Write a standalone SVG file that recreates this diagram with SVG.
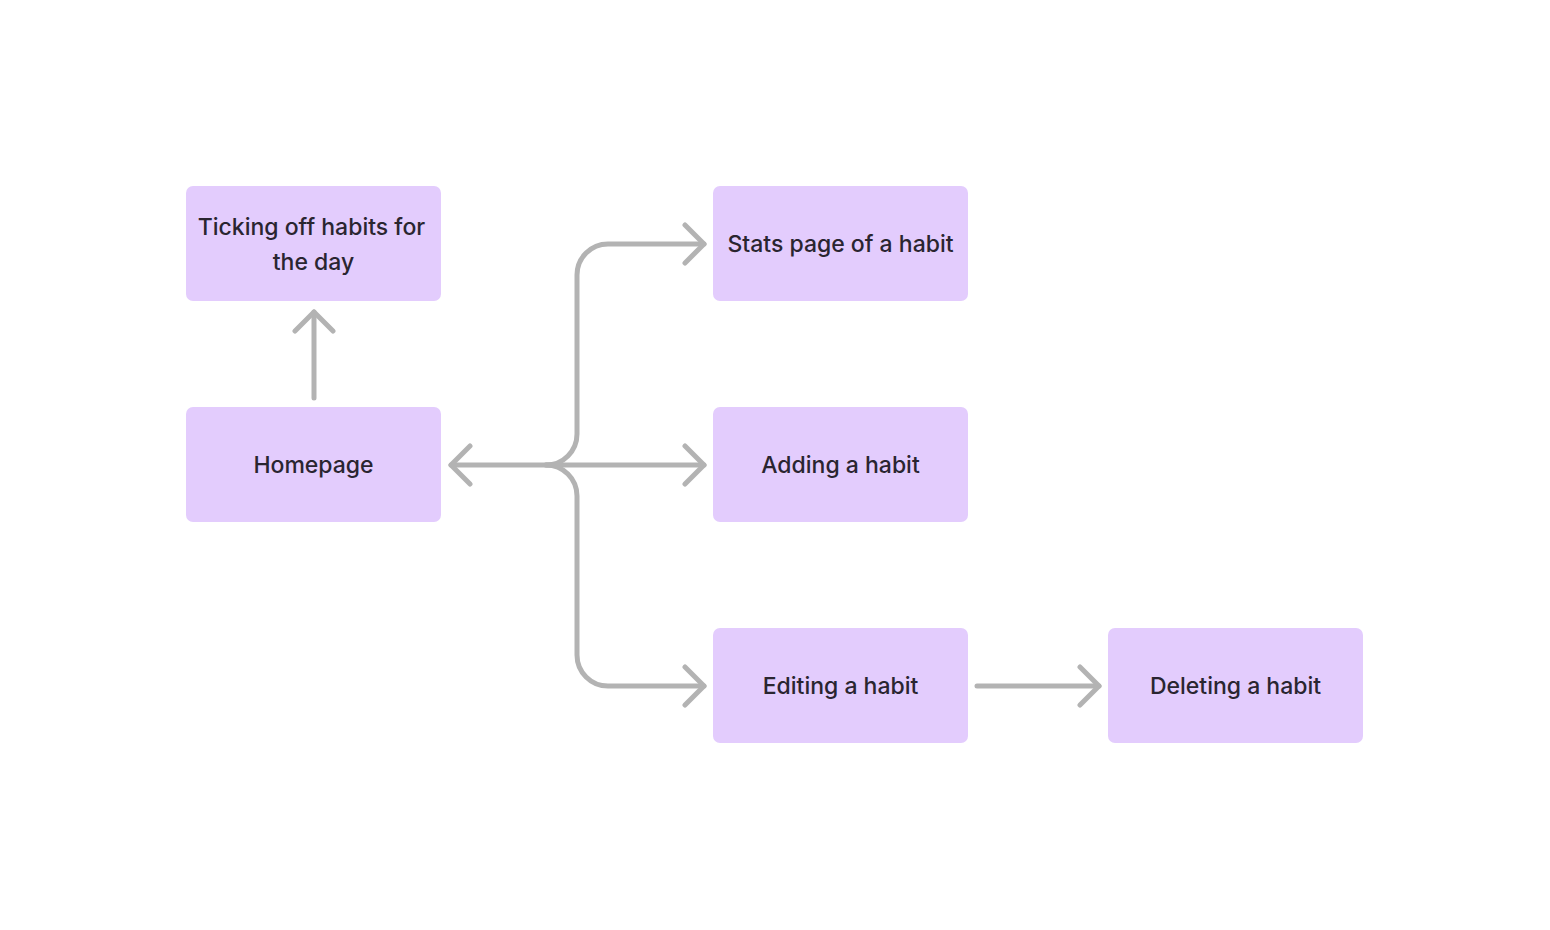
<svg xmlns="http://www.w3.org/2000/svg" width="1550" height="930" viewBox="0 0 1550 930">
  <style>
    .box { fill: #E3CCFD; }
    .label { font-family: Inter, "Noto Sans", "Liberation Sans", sans-serif; font-size: 23px; font-weight: 500; fill: #2A2530; text-anchor: middle; }
    .link { fill: none; stroke: #B3B3B3; stroke-width: 5; stroke-linecap: round; stroke-linejoin: round; }
  </style>
  <defs>
    <marker id="chevron" markerUnits="userSpaceOnUse" viewBox="-24 -22 28 44" refX="0" refY="0" markerWidth="28" markerHeight="44" orient="auto-start-reverse">
      <path d="M -19 -19 L 0 0 L -19 19" fill="none" stroke="#B3B3B3" stroke-width="5" stroke-linecap="round" stroke-linejoin="round"/>
    </marker>
  </defs>
  <rect width="1550" height="930" fill="#FFFFFF"/>

  <g id="connectors">
    <!-- Homepage up to ticking off habits -->
    <path class="link" d="M 314 398 L 314 312" marker-end="url(#chevron)"/>
    <!-- Homepage <-> Adding a habit -->
    <path class="link" d="M 451 465 L 704 465" marker-start="url(#chevron)" marker-end="url(#chevron)"/>
    <!-- Branch up to stats page -->
    <path class="link" d="M 546 465 A 31 31 0 0 0 577 434 L 577 275 A 31 31 0 0 1 608 244 L 704 244" marker-end="url(#chevron)"/>
    <!-- Branch down to editing -->
    <path class="link" d="M 546 465 A 31 31 0 0 1 577 496 L 577 655 A 31 31 0 0 0 608 686 L 704 686" marker-end="url(#chevron)"/>
    <!-- Editing to deleting -->
    <path class="link" d="M 977 686 L 1099 686" marker-end="url(#chevron)"/>
  </g>

  <g id="ticking">
    <rect class="box" x="186" y="186" width="255" height="115" rx="7"/>
    <text class="label" x="311.5" y="235">Ticking off habits for</text>
    <text class="label" x="313.5" y="270">the day</text>
  </g>
  <g id="homepage">
    <rect class="box" x="186" y="407" width="255" height="115" rx="7"/>
    <text class="label" x="313.5" y="473">Homepage</text>
  </g>
  <g id="stats">
    <rect class="box" x="713" y="186" width="255" height="115" rx="7"/>
    <text class="label" x="840.5" y="252">Stats page of a habit</text>
  </g>
  <g id="adding">
    <rect class="box" x="713" y="407" width="255" height="115" rx="7"/>
    <text class="label" x="840.5" y="473">Adding a habit</text>
  </g>
  <g id="editing">
    <rect class="box" x="713" y="628" width="255" height="115" rx="7"/>
    <text class="label" x="840.5" y="694">Editing a habit</text>
  </g>
  <g id="deleting">
    <rect class="box" x="1108" y="628" width="255" height="115" rx="7"/>
    <text class="label" x="1235.5" y="694">Deleting a habit</text>
  </g>
</svg>
